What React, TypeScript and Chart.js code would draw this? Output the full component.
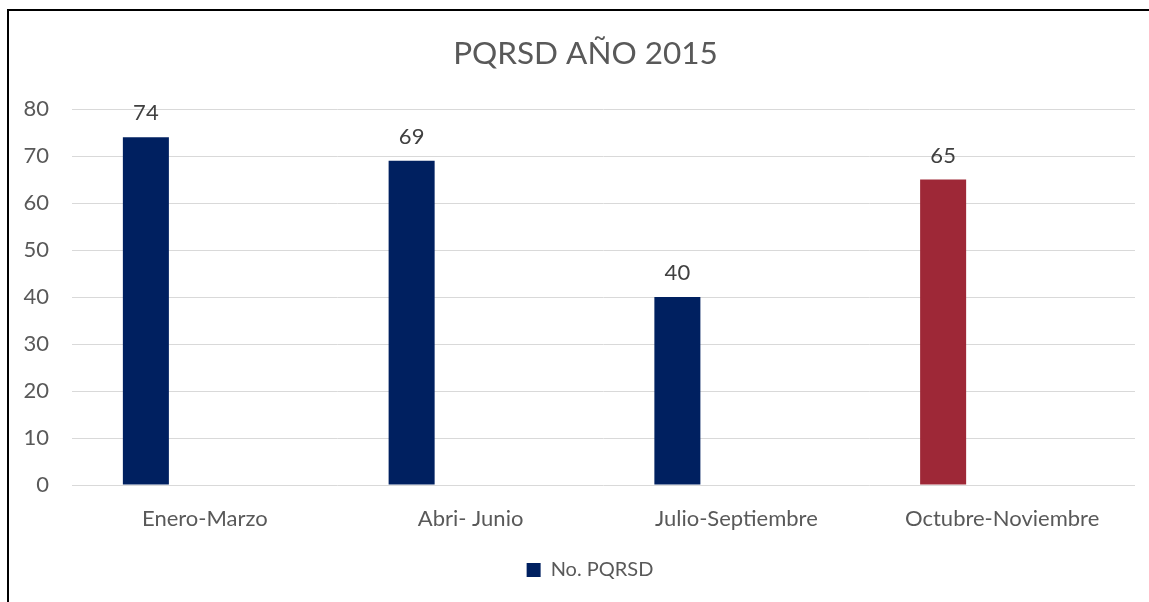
import React, { useEffect, useRef } from "react";
import { Chart, registerables } from "chart.js";

Chart.register(...registerables);

const categories = ["Enero-Marzo", "Abri- Junio", "Julio-Septiembre", "Octubre-Noviembre"];
const pqrsdValues = [74, 69, 40, 65];
const emptySeries = [null, null, null, null];
const seriesName = "No. PQRSD";
const chartTitle = "PQRSD AÑO 2015";
const yMin = 0;
const yMax = 80;
const yStep = 10;

const NAVY = "#002060";
const RED = "#9E2837";
const TEXT = "#595959";
const FONT = "Lato, 'Open Sans', sans-serif";

const dataLabelPlugin = {
  id: "dataLabels",
  afterDatasetsDraw(chart: any) {
    const ctx = chart.ctx;
    const meta = chart.getDatasetMeta(0);
    const data = chart.data.datasets[0].data as number[];
    ctx.save();
    ctx.fillStyle = "#404040";
    ctx.font = `22px ${FONT}`;
    ctx.textAlign = "center";
    ctx.textBaseline = "alphabetic";
    meta.data.forEach((bar: any, i: number) => {
      ctx.fillText(String(data[i]), bar.x, bar.y - 17);
    });
    ctx.restore();
  },
};

// Excel centres title and legend on the full chart frame (wider than the plot),
// so nudge the library's title and legend boxes sideways after layout.
const shiftBoxesPlugin = {
  id: "shiftBoxes",
  afterLayout(chart: any) {
    const t = chart.titleBlock;
    if (t) {
      t.left += 13.5;
      t.right += 13.5;
    }
    const l = chart.legend;
    if (l) {
      l.left += 18;
      l.right += 18;
    }
  },
};

export default function App() {
  const ref = useRef<HTMLCanvasElement | null>(null);
  useEffect(() => {
    if (!ref.current) return;
    const chart = new Chart(ref.current, {
      type: "bar",
      data: {
        labels: categories,
        datasets: [
          {
            label: seriesName,
            data: pqrsdValues,
            backgroundColor: (c: any) => (c.dataIndex === 3 ? RED : NAVY),
            borderWidth: 0,
            categoryPercentage: 0.888,
            barPercentage: 0.39,
          },
          {
            label: "",
            data: emptySeries as any,
            backgroundColor: "transparent",
            categoryPercentage: 0.888,
            barPercentage: 0.39,
          },
        ],
      },
      options: {
        animation: false,
        responsive: true,
        maintainAspectRatio: false,
        layout: { padding: { left: 0, right: 27, top: 0, bottom: 12 } },
        plugins: {
          title: {
            display: true,
            text: chartTitle,
            color: TEXT,
            font: { family: FONT, size: 31.5, weight: "normal" },
            padding: { top: 24, bottom: 36.2 },
          },
          legend: {
            position: "bottom",
            labels: {
              filter: (item: any) => item.datasetIndex === 0,
              color: TEXT,
              font: { family: FONT, size: 20 },
              boxWidth: 14,
              boxHeight: 14,
              padding: 10,
            },
          },
          tooltip: { enabled: false },
        },
        scales: {
          x: {
            grid: { display: false },
            border: { display: false },
            ticks: {
              color: TEXT,
              font: { family: FONT, size: 22 },
              padding: 13,
              maxRotation: 0,
            },
            afterFit: (s: any) => {
              s.height = 65;
            },
          },
          y: {
            min: yMin,
            max: yMax,
            grid: { color: "#D9D9D9", lineWidth: 1, drawTicks: false },
            border: { display: false },
            ticks: {
              stepSize: yStep,
              color: TEXT,
              font: { family: FONT, size: 22 },
              padding: 23,
            },
            afterFit: (s: any) => {
              s.width = 63;
            },
          },
        },
      },
      plugins: [dataLabelPlugin, shiftBoxesPlugin],
    });
    return () => chart.destroy();
  }, []);

  return (
    <div
      style={{
        position: "fixed",
        left: 0,
        top: 0,
        width: 1149,
        height: 602,
        overflow: "hidden",
        background: "#fff",
      }}
    >
      <div style={{ position: "absolute", left: 9, top: 11, width: 1153, height: 591 }}>
        <canvas ref={ref} />
      </div>
      <div
        style={{
          position: "absolute",
          left: 7,
          top: 9,
          right: 0,
          bottom: 0,
          borderTop: "2px solid #000",
          borderLeft: "2px solid #000",
          pointerEvents: "none",
        }}
      />
    </div>
  );
}
